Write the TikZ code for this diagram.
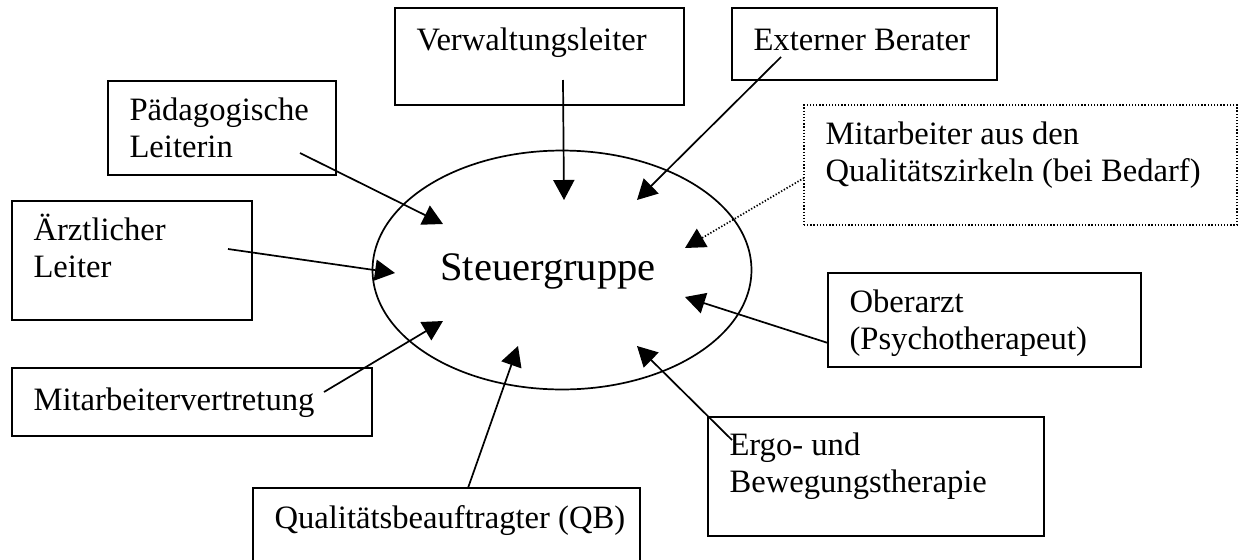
\documentclass[tikz,border=0pt]{standalone}
\usepackage{fontspec}
\setmainfont{Liberation Serif}
\usetikzlibrary{arrows.meta,shapes.geometric}

\tikzset{
  member/.style={draw,line width=0.65pt,inner sep=0pt,outer sep=0pt,anchor=north west},
  guest/.style={member,dash pattern=on 0.5pt off 0.7pt},
  caption/.style={anchor=base west,align=left,inner sep=0pt,font=\fontsize{12.4}{13.9}\selectfont},
  link/.style={line width=0.65pt,-{Triangle[length=7.6pt,width=8pt]}},
}

\begin{document}
\begin{tikzpicture}[x=0.38pt,y=-0.38pt]
  \useasboundingbox (0,0) rectangle (1238,559);

  % the group in the middle
  \node[draw,ellipse,line width=0.65pt,minimum width=144pt,minimum height=90.8pt] (sg) at (562,270) {};
  \node[anchor=base,inner sep=0pt,font=\fontsize{15.4}{18}\selectfont] (sgname) at (548,280) {Steuergruppe};

  % members: name/left/top/right/bottom/baseline of last line/text
  \foreach \id/\lft/\tp/\rgt/\btm/\dy/\name in {
      verw/395/8/684/105/42/Verwaltungsleiter,
      ext/732/8/997/80/42/Externer Berater,
      paed/108/81/336/175/76/{Pädagogische\\Leiterin},
      arzt/12/201/252/320/76/{Ärztlicher\\Leiter},
      ober/828/273/1141/367/76/{Oberarzt\\(Psychotherapeut)},
      mav/12/368/372/436/42/Mitarbeitervertretung,
      qb/253/488/640/580/40/Qualitätsbeauftragter (QB),
      ergo/708/417/1044/536/75/{Ergo- und\\Bewegungstherapie}} {
    \node[member,minimum width={(\rgt-\lft)*0.38pt},minimum height={(\btm-\tp)*0.38pt}] (\id) at (\lft,\tp) {};
    \node[caption] (\id-name) at ([shift={(21,\dy)}]\id.north west) {\name};
  }

  % only when needed
  \node[guest,minimum width={(1237-804)*0.38pt},minimum height={(225-105)*0.38pt}] (qz) at (804,105) {};
  \node[caption] (qz-name) at ([shift={(21,76)}]qz.north west) {Mitarbeiter aus den\\Qualitätszirkeln (bei Bedarf)};

  % arrows into the group
  \foreach \id/\sx/\sy/\tx/\ty in {verw/563/80/564/200, ext/781/57/637/200, paed/300/153/443/224,
      arzt/228/249/395/273, ober/828/343/685/297, mav/324/392/443/321,
      qb/468/488/518/346, ergo/732/440/637/346} {
    \coordinate (\id-out) at (\sx,\sy);
    \coordinate (\id-in) at (\tx,\ty);
    \draw[link] (\id-out) -- (\id-in);
  }
  \coordinate (qz-out) at (804,178);
  \coordinate (qz-in) at (685,248);
  \draw[link,dash pattern=on 0.5pt off 0.7pt] (qz-out) -- (qz-in);
\end{tikzpicture}
\end{document}
